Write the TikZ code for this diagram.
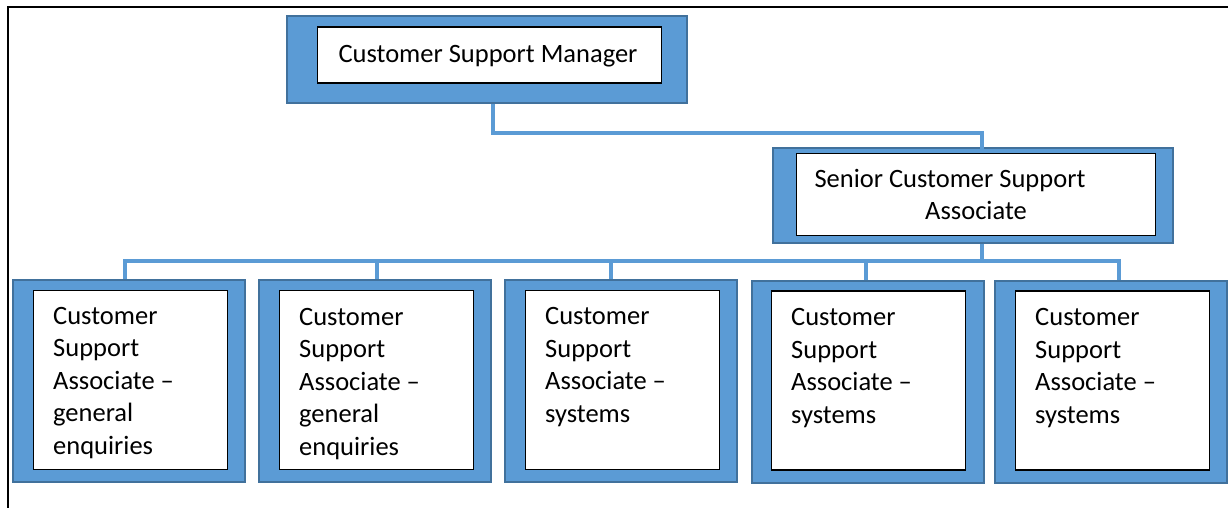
\documentclass[tikz,border=0pt]{standalone}
\usepackage{fontspec}
\setmainfont{Carlito}
\usepackage{tikz}
\definecolor{boxblue}{HTML}{5B9BD5}
\definecolor{edgeblue}{HTML}{41719C}

\begin{document}
\begin{tikzpicture}[x=1pt,y=-1pt,
    outer/.style={draw=edgeblue,fill=boxblue,line width=2pt,inner sep=0pt},
    inner/.style={draw=black,fill=white,line width=1.2pt,inner sep=0pt,
      font=\fontsize{26.5}{32.6}\selectfont},
    chouter/.style={outer,minimum width=232pt,minimum height=202pt},
    chinner/.style={inner,minimum width=194pt,minimum height=179pt},
    chtext/.style={anchor=base west,align=left,inner sep=0pt,
      font=\fontsize{26.5}{32.4}\selectfont},
    link/.style={boxblue,line width=4pt}]
    \useasboundingbox (0,0) rectangle (1228,508);
    % frame
    \draw[line width=2.5pt] (8,508) -- (8,7) -- (1228,7);
    % manager
    \node[outer,minimum width=400pt,minimum height=87pt] (mgrbox) at (487,59.5) {};
    \node[inner,minimum width=344pt,minimum height=56pt] (mgr) at (489.5,55) {};
    \node[inner sep=0pt,font=\fontsize{26.5}{32.6}\selectfont,anchor=base] (mgrt) at (488,63) {Customer Support Manager};
    % senior associate
    \node[outer,minimum width=400pt,minimum height=95pt] (snrbox) at (973,195.5) {};
    \node[inner,minimum width=359pt,minimum height=82pt,align=center] (snr) at (976,194.5)
      {Senior Customer Support\hbox to 52pt{}\\Associate};
    % associates
    \node[chouter] (cabox) at (129,381) {};
    \node[chinner] (ca) at (130.5,380) {};
    \node[chtext] (cat) at (53,454) {Customer\\Support\\Associate –\\general\\enquiries};
    \node[chouter] (cbbox) at (375,381) {};
    \node[chinner] (cb) at (376.5,380) {};
    \node[chtext] (cbt) at (299,455) {Customer\\Support\\Associate –\\general\\enquiries};
    \node[chouter] (ccbox) at (621,381) {};
    \node[chinner] (cc) at (622.5,380) {};
    \node[chtext] (cct) at (545,422) {Customer\\Support\\Associate –\\systems};
    \node[chouter] (cdbox) at (867.5,381.5) {};
    \node[chinner] (cd) at (868.5,380.5) {};
    \node[chtext] (cdt) at (791,423) {Customer\\Support\\Associate –\\systems};
    \node[chouter] (cebox) at (1111,381.5) {};
    \node[chinner] (ce) at (1112.5,380.5) {};
    \node[chtext] (cet) at (1035,423) {Customer\\Support\\Associate –\\systems};
    % connectors
    \draw[link] ([xshift=6pt]mgrbox.south) -- ++(0,29) -| ([xshift=6pt]snr.north);
    \draw[link] ([xshift=9pt]snrbox.south) -- ++(0,17) -| ([xshift=-4pt]cabox.north);
    \draw[link] ([xshift=9pt]snrbox.south) -- ++(0,17) -| ([xshift=2pt]cbbox.north);
    \draw[link] ([xshift=9pt]snrbox.south) -- ++(0,17) -| ([xshift=-10pt]ccbox.north);
    \draw[link] ([xshift=9pt]snrbox.south) -- ++(0,17) -| ([xshift=-1.5pt]cdbox.north);
    \draw[link] ([xshift=9pt]snrbox.south) -- ++(0,17) -| ([xshift=8pt]cebox.north);
\end{tikzpicture}
\end{document}
